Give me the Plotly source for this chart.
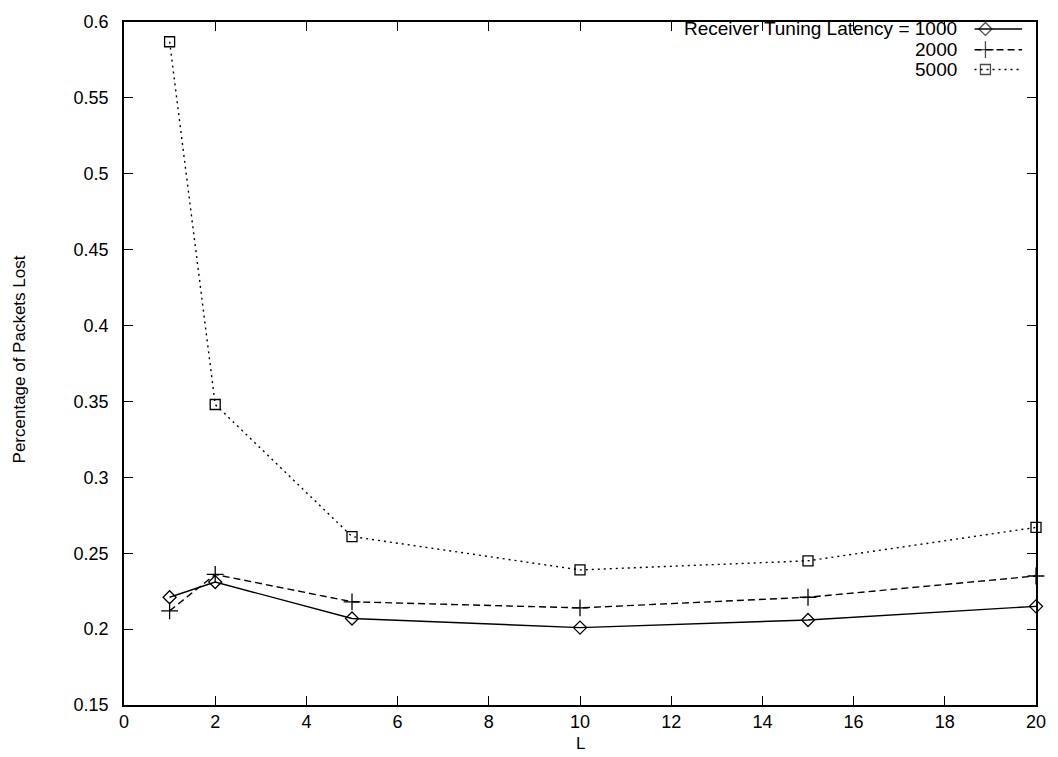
import plotly.graph_objects as go

# ---- data ----
L_values = [1, 2, 5, 10, 15, 20]
lat_1000 = [0.221, 0.231, 0.207, 0.201, 0.206, 0.215]
lat_2000 = [0.212, 0.236, 0.218, 0.214, 0.221, 0.235]
lat_5000 = [0.587, 0.348, 0.261, 0.239, 0.245, 0.267]
series_labels = ["Receiver Tuning Latency = 1000", "2000", "5000"]
x_title = "L"
y_title = "Percentage of Packets Lost"

FONT = "Liberation Sans, Arial, Helvetica, sans-serif"
W, H = 1058, 757
ML, MR, MT, MB = 124, 14, 15, 52
PW, PH = W - ML - MR, H - MT - MB

styles = [
    dict(dash="solid", symbol="diamond-open", size=10),
    dict(dash="7px,4px", symbol="cross-thin", size=12),
    dict(dash="2px,4px", symbol="square-open", size=10),
]
series = [lat_1000, lat_2000, lat_5000]

fig = go.Figure()
for vals, st, name in zip(series, styles, series_labels):
    fig.add_trace(go.Scatter(
        x=L_values, y=vals, mode="lines+markers", name=name,
        line=dict(color="black", width=1.4, dash=st["dash"]),
        marker=dict(symbol=st["symbol"], size=st["size"], color="black",
                    line=dict(color="black", width=1.3)),
        showlegend=False, cliponaxis=False,
    ))

# ---- manual gnuplot-style key (text left, sample right) ----
legend_rows_px = [22, 43, 63]       # pixel rows of key entries
key_x0, key_x1, key_mark = 982, 1030, 993
for row, st in zip(legend_rows_px, styles):
    fig.add_trace(go.Scatter(
        x=[key_x0, key_mark, key_x1], y=[row, row, row],
        xaxis="x2", yaxis="y2", mode="lines+markers", showlegend=False,
        line=dict(color="black", width=1.4, dash=st["dash"]),
        marker=dict(symbol=st["symbol"], size=[0, st["size"], 0], color="black",
                    line=dict(color="black", width=1.3)),
        hoverinfo="skip", cliponaxis=False,
    ))

annotations = []
for row, txt in zip(legend_rows_px, series_labels):
    annotations.append(dict(
        text=txt, xref="paper", yref="paper",
        x=(966 - ML) / PW, y=1 - (row - MT) / PH,
        xanchor="right", yanchor="middle", showarrow=False,
        font=dict(family=FONT, size=19, color="black")))

annotations.append(dict(text=x_title, xref="paper", yref="paper",
                        x=0.5, y=-(744 - (H - MB)) / PH,
                        xanchor="center", yanchor="middle", showarrow=False,
                        font=dict(family=FONT, size=17, color="black")))
annotations.append(dict(text=y_title, xref="paper", yref="paper",
                        x=-(ML - 19) / PW, y=0.5 + 4 / PH, textangle=-90,
                        xanchor="center", yanchor="middle", showarrow=False,
                        font=dict(family=FONT, size=17, color="black")))

axis_common = dict(showline=True, linecolor="black", linewidth=1.5,
                   mirror="ticks", ticks="inside", ticklen=9, tickwidth=1.3,
                   tickcolor="black", showgrid=False, zeroline=False,
                   tickfont=dict(family=FONT, size=18, color="black"))

fig.update_layout(
    width=W, height=H,
    margin=dict(l=ML, r=MR, t=MT, b=MB, pad=0),
    paper_bgcolor="white", plot_bgcolor="white",
    xaxis=dict(range=[0, 20], dtick=2, tick0=0, ticklabelstandoff=0,
               **axis_common),
    yaxis=dict(range=[0.15, 0.6], dtick=0.05, tick0=0.15,
               ticklabelstandoff=10, **axis_common),
    xaxis2=dict(domain=[0, 1], range=[ML, W - MR], visible=False,
                anchor="y2", overlaying="x"),
    yaxis2=dict(domain=[0, 1], range=[H - MB, MT], visible=False,
                anchor="x2", overlaying="y"),
    annotations=annotations,
    showlegend=False,
)

fig.write_html("out.html")
